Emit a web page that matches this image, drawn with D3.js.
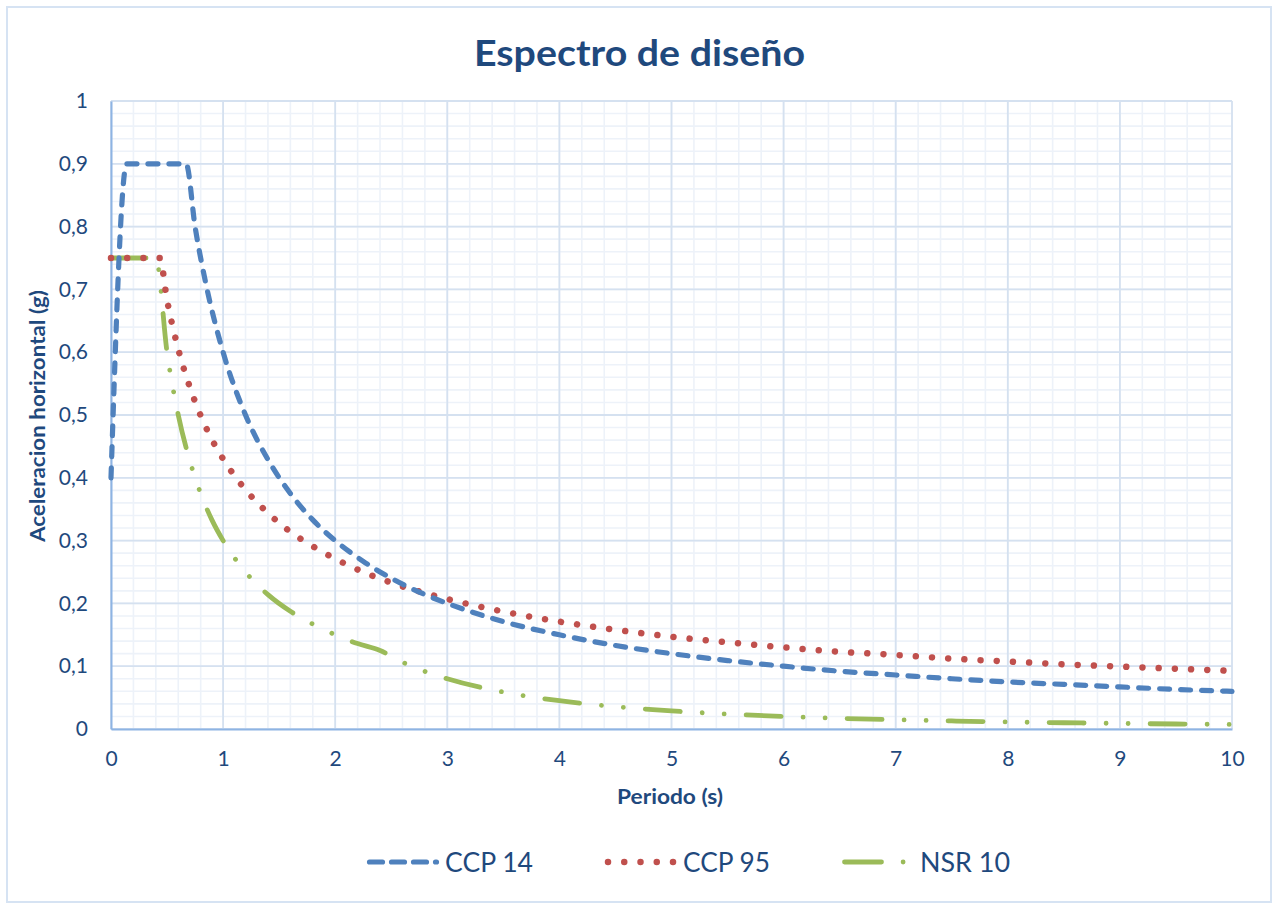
<!DOCTYPE html>
<html>
<head>
<meta charset="utf-8">
<script src="https://cdn.jsdelivr.net/npm/d3@7"></script>
<style>
  html, body { margin: 0; padding: 0; background: #fff; }
  svg { display: block; }
  text { font-family: Lato, "Open Sans", sans-serif; fill: #1F497D; }
</style>
</head>
<body>
<svg id="chart" width="1273" height="909"></svg>
<script>
// Design spectra: spectral acceleration (g) against period (s)
const ccp14Periods = [0, 0.14, 0.3, 0.5, 0.67, 0.75, 0.85, 1, 1.2, 1.4, 1.6, 1.8, 2, 2.25, 2.5, 2.75, 3, 3.5, 4, 4.5, 5, 5.5, 6, 6.5, 7, 7.5, 8, 8.5, 9, 9.5, 10];
const ccp14Values  = [0.4, 0.9, 0.9, 0.9, 0.9, 0.8, 0.706, 0.6, 0.5, 0.429, 0.375, 0.333, 0.3, 0.267, 0.24, 0.218, 0.2, 0.171, 0.15, 0.133, 0.12, 0.109, 0.1, 0.092, 0.086, 0.08, 0.075, 0.071, 0.067, 0.063, 0.06];

const ccp95Periods = [0, 0.1, 0.2, 0.3, 0.434, 0.5, 0.6, 0.7, 0.8, 0.9, 1, 1.2, 1.4, 1.6, 1.8, 2, 2.25, 2.5, 2.75, 3, 3.5, 4, 4.5, 5, 5.5, 6, 6.5, 7, 7.5, 8, 8.5, 9, 9.5, 10];
const ccp95Values  = [0.75, 0.75, 0.75, 0.75, 0.75, 0.683, 0.605, 0.546, 0.499, 0.461, 0.43, 0.381, 0.344, 0.314, 0.291, 0.271, 0.25, 0.233, 0.219, 0.207, 0.187, 0.171, 0.158, 0.147, 0.138, 0.13, 0.123, 0.118, 0.112, 0.1075, 0.103, 0.0994, 0.0959, 0.0926];

const nsr10Periods = [0, 0.1, 0.2, 0.3, 0.4, 0.5, 0.6, 0.7, 0.8, 0.9, 1, 1.2, 1.4, 1.6, 1.8, 2, 2.2, 2.4, 2.6, 2.8, 3, 3.5, 4, 4.5, 5, 5.5, 6, 6.5, 7, 7.5, 8, 8.5, 9, 9.5, 10];
const nsr10Values  = [0.75, 0.75, 0.75, 0.75, 0.75, 0.6, 0.5, 0.429, 0.375, 0.333, 0.3, 0.25, 0.214, 0.1875, 0.167, 0.15, 0.136, 0.125, 0.1065, 0.0918, 0.08, 0.0588, 0.045, 0.0356, 0.0288, 0.0238, 0.02, 0.017, 0.0147, 0.0128, 0.01125, 0.00997, 0.00889, 0.00798, 0.0072];

const seriesNames = ["CCP 14", "CCP 95", "NSR 10"];
const xTickValues = [0, 1, 2, 3, 4, 5, 6, 7, 8, 9, 10];
const xTickLabels = ["0", "1", "2", "3", "4", "5", "6", "7", "8", "9", "10"];
const yTickValues = [0, 0.1, 0.2, 0.3, 0.4, 0.5, 0.6, 0.7, 0.8, 0.9, 1];
const yTickLabels = ["0", "0,1", "0,2", "0,3", "0,4", "0,5", "0,6", "0,7", "0,8", "0,9", "1"];

const titleText = "Espectro de diseño";
const xTitle = "Periodo (s)";
const yTitle = "Aceleracion horizontal (g)";

// ---------------------------------------------------------------
const svg = d3.select("#chart");
const plot = { left: 111, right: 1232, top: 101, bottom: 729 };

const x = d3.scaleLinear().domain([0, 10]).range([plot.left, plot.right]);
const y = d3.scaleLinear().domain([0, 1]).range([plot.bottom, plot.top]);

// chart frame
svg.append("rect")
  .attr("x", 7).attr("y", 7).attr("width", 1264).attr("height", 895)
  .attr("fill", "#fff").attr("stroke", "#D6E3F3").attr("stroke-width", 2);

// minor grid
const g = svg.append("g");
g.append("g").selectAll("line")
  .data(d3.range(0, 10.0001, 0.2))
  .join("line")
  .attr("x1", d => x(d)).attr("x2", d => x(d))
  .attr("y1", plot.top).attr("y2", plot.bottom)
  .attr("stroke", "#EDF2F9").attr("stroke-width", 1.6);
g.append("g").selectAll("line")
  .data(d3.range(0, 1.0001, 0.02))
  .join("line")
  .attr("y1", d => y(d)).attr("y2", d => y(d))
  .attr("x1", plot.left).attr("x2", plot.right)
  .attr("stroke", "#EDF2F9").attr("stroke-width", 1.6);

// major grid
g.append("g").selectAll("line")
  .data(xTickValues)
  .join("line")
  .attr("x1", d => x(d)).attr("x2", d => x(d))
  .attr("y1", plot.top).attr("y2", plot.bottom)
  .attr("stroke", "#D5E1F0").attr("stroke-width", 1.8);
g.append("g").selectAll("line")
  .data(yTickValues)
  .join("line")
  .attr("y1", d => y(d)).attr("y2", d => y(d))
  .attr("x1", plot.left).attr("x2", plot.right)
  .attr("stroke", "#D5E1F0").attr("stroke-width", 1.8);

// axes
const xAxis = d3.axisBottom(x)
  .tickValues(xTickValues)
  .tickFormat((d, i) => xTickLabels[i])
  .tickSize(0).tickPadding(22);
const yAxis = d3.axisLeft(y)
  .tickValues(yTickValues)
  .tickFormat((d, i) => yTickLabels[i])
  .tickSize(0).tickPadding(23);

const gx = svg.append("g").attr("transform", `translate(0,${plot.bottom})`).call(xAxis);
const gy = svg.append("g").attr("transform", `translate(${plot.left},0)`).call(yAxis);
[gx, gy].forEach(a => {
  a.select(".domain").attr("stroke", "#8EB4E3").attr("stroke-width", 2);
  a.selectAll("text").attr("font-size", 21).attr("fill", "#1F497D")
    .style("font-family", "Lato, sans-serif");
});
gx.selectAll("text").attr("dy", "0.71em");

// series
const line = d3.line()
  .x(d => x(d[0])).y(d => y(d[1]))
  .curve(d3.curveMonotoneX);

const series = [
  { name: seriesNames[0], periods: ccp14Periods, values: ccp14Values,
    color: "#4F81BD", width: 5.2, dash: "10 11", legendDash: "13 9" },
  { name: seriesNames[1], periods: ccp95Periods, values: ccp95Values,
    color: "#C0504D", width: 6.5, dash: "0.01 16.2", legendDash: "0.01 16.24" },
  { name: seriesNames[2], periods: nsr10Periods, values: nsr10Values,
    color: "#9BBB59", width: 4.8, dash: "35 22 0.01 22 0.01 22", legendDash: "37 21.6 0.01 100" }
];

const lines = svg.append("g");
// draw in reverse so CCP 14 sits on top
series.slice().reverse().forEach(s => {
  lines.append("path")
    .datum(s.periods.map((p, i) => [p, s.values[i]]))
    .attr("d", line)
    .attr("fill", "none")
    .attr("stroke", s.color)
    .attr("stroke-width", s.width)
    .attr("stroke-linecap", "round")
    .attr("stroke-linejoin", "round")
    .attr("stroke-dasharray", s.dash);
});

// title
svg.append("text")
  .attr("x", 474).attr("y", 66)
  .attr("font-size", 37).attr("font-weight", 700)
  .attr("textLength", 331)
  .attr("lengthAdjust", "spacingAndGlyphs")
  .text(titleText);

// axis titles
svg.append("text")
  .attr("x", 617).attr("y", 804)
  .attr("font-size", 21).attr("font-weight", 700)
  .attr("textLength", 106)
  .attr("lengthAdjust", "spacingAndGlyphs")
  .text(xTitle);

svg.append("text")
  .attr("transform", `translate(45,542) rotate(-90)`)
  .attr("font-size", 21).attr("font-weight", 700)
  .attr("textLength", 252)
  .attr("lengthAdjust", "spacingAndGlyphs")
  .text(yTitle);

// legend
const legendItems = [
  { x0: 369.5, x1: 436.5, tx: 445, tw: 88 },
  { x0: 608, x1: 674, tx: 683, tw: 87 },
  { x0: 844.5, x1: 904, tx: 920, tw: 90 }
];
const legendY = 862;
const lg = svg.append("g");
series.forEach((s, i) => {
  const it = legendItems[i];
  lg.append("line")
    .attr("x1", it.x0).attr("x2", it.x1)
    .attr("y1", legendY).attr("y2", legendY)
    .attr("stroke", s.color)
    .attr("stroke-width", s.width)
    .attr("stroke-linecap", "round")
    .attr("stroke-dasharray", s.legendDash);
  lg.append("text")
    .attr("x", it.tx).attr("y", legendY + 10)
    .attr("font-size", 27)
    .attr("textLength", it.tw)
    .attr("lengthAdjust", "spacingAndGlyphs")
    .text(s.name);
});
</script>
</body>
</html>
